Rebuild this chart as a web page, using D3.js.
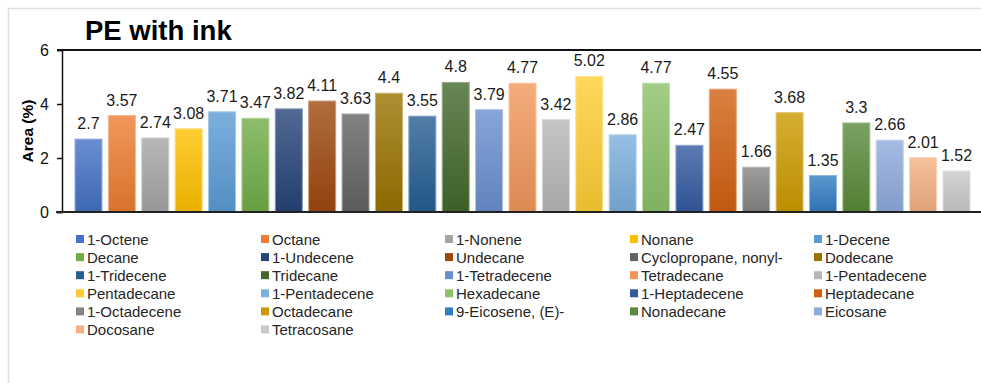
<!DOCTYPE html>
<html>
<head>
<meta charset="utf-8">
<script src="https://cdn.jsdelivr.net/npm/d3@7/dist/d3.min.js"></script>
<style>
  html, body { margin: 0; padding: 0; background: #fff; overflow: hidden; }
  svg { display: block; font-family: "Liberation Sans", Arial, sans-serif; }
</style>
</head>
<body>
<svg id="chart" width="981" height="383"></svg>
<script>
// Compounds detected (legend order = bar order)
const compounds = [
  "1-Octene", "Octane", "1-Nonene", "Nonane", "1-Decene",
  "Decane", "1-Undecene", "Undecane", "Cyclopropane, nonyl-", "Dodecane",
  "1-Tridecene", "Tridecane", "1-Tetradecene", "Tetradecane", "1-Pentadecene",
  "Pentadecane", "1-Pentadecene", "Hexadecane", "1-Heptadecene", "Heptadecane",
  "1-Octadecene", "Octadecane", "9-Eicosene, (E)-", "Nonadecane", "Eicosane",
  "Docosane", "Tetracosane"
];
// Peak area (%)
const areas = [
  2.7, 3.57, 2.74, 3.08, 3.71,
  3.47, 3.82, 4.11, 3.63, 4.4,
  3.55, 4.8, 3.79, 4.77, 3.42,
  5.02, 2.86, 4.77, 2.47, 4.55,
  1.66, 3.68, 1.35, 3.3, 2.66,
  2.01, 1.52
];
const seriesColors = [
  "#4472C4", "#ED7D31", "#A5A5A5", "#FFC000", "#5B9BD5",
  "#70AD47", "#264478", "#9E480E", "#636363", "#997300",
  "#255E91", "#43682B", "#698ED0", "#F1975A", "#B7B7B7",
  "#FFCD33", "#7CAFDD", "#8CC168", "#335AA1", "#D26012",
  "#848484", "#CC9A00", "#327DC2", "#5A8A39", "#8FAADC",
  "#F4B183", "#C9C9C9"
];
const yTicks = [0, 2, 4, 6];
const chartTitle = "PE with ink";
const yTitle = "Area (%)";

const svg = d3.select("#chart");
const data = compounds.map((name, i) => ({ i, name, value: areas[i], color: seriesColors[i] }));

// outer frame (runs past the right and bottom edges)
svg.append("rect")
  .attr("x", 8.5).attr("y", 8.5)
  .attr("width", 1000).attr("height", 400)
  .attr("fill", "#fff").attr("stroke", "#dde1e6").attr("stroke-width", 1.5);

const x = d3.scaleBand()
  .domain(d3.range(data.length))
  .range([71.8, 973.2])
  .paddingInner(0.19)
  .paddingOuter(0.095);

const y = d3.scaleLinear().domain([0, 6]).range([212, 50]);

// vertical gradients for each bar
const defs = svg.append("defs");
data.forEach(d => {
  const g = defs.append("linearGradient")
    .attr("id", "grad" + d.i)
    .attr("x1", 0).attr("y1", 0).attr("x2", 0).attr("y2", 1);
  g.append("stop").attr("offset", "0%")
    .attr("stop-color", d3.interpolateRgb(d.color, "#ffffff")(0.2));
  g.append("stop").attr("offset", "100%")
    .attr("stop-color", d3.color(d.color).darker(0.25).formatHex());
});

// title
svg.append("text")
  .attr("x", 85).attr("y", 40)
  .attr("font-size", 27.5).attr("font-weight", "bold").attr("fill", "#000")
  .text(chartTitle);

// y axis title
svg.append("text")
  .attr("transform", "translate(33,131) rotate(-90)")
  .attr("text-anchor", "middle")
  .attr("font-size", 15.5).attr("font-weight", "bold").attr("fill", "#000")
  .text(yTitle);

// top line at the axis maximum
svg.append("line")
  .attr("x1", 57).attr("x2", 981)
  .attr("y1", y(6)).attr("y2", y(6))
  .attr("stroke", "#111").attr("stroke-width", 2);

// bars
svg.append("g").selectAll("rect")
  .data(data)
  .join("rect")
  .attr("x", d => x(d.i))
  .attr("width", x.bandwidth())
  .attr("y", d => y(d.value))
  .attr("height", d => y(0) - y(d.value))
  .attr("fill", d => `url(#grad${d.i})`)
  .attr("stroke", d => d3.interpolateRgb(d.color, "#ffffff")(0.45))
  .attr("stroke-width", 1);

// value labels
svg.append("g").selectAll("text")
  .data(data)
  .join("text")
  .attr("x", d => x(d.i) + x.bandwidth() / 2)
  .attr("y", d => y(d.value) - 10)
  .attr("text-anchor", "middle")
  .attr("font-size", 16).attr("fill", "#1a1a1a")
  .text(d => d.value);

// y axis
const yAxis = svg.append("g")
  .attr("transform", "translate(62,0)")
  .call(d3.axisLeft(y).tickValues(yTicks).tickFormat(d3.format("d")).tickSize(5).tickPadding(8));
yAxis.select(".domain").attr("stroke", "#111").attr("stroke-width", 1.5);
yAxis.selectAll(".tick line").attr("stroke", "#111").attr("stroke-width", 1.5);
yAxis.selectAll(".tick text")
  .attr("font-size", 16).attr("fill", "#111")
  .attr("font-family", "'Liberation Sans', Arial, sans-serif");

// x axis baseline
svg.append("line")
  .attr("x1", 56).attr("x2", 981)
  .attr("y1", y(0)).attr("y2", y(0))
  .attr("stroke", "#222").attr("stroke-width", 2);

// legend: 5 columns
const legend = svg.append("g");
const colX = [76, 261, 445, 630, 814];
const rowY0 = 239, rowStep = 18.1;
const items = legend.selectAll("g")
  .data(data)
  .join("g")
  .attr("transform", d => `translate(${colX[d.i % 5]},${rowY0 + Math.floor(d.i / 5) * rowStep})`);
items.append("rect")
  .attr("x", 0).attr("y", -4).attr("width", 8).attr("height", 8)
  .attr("fill", d => d.color);
items.append("text")
  .attr("x", 11).attr("y", 5.5)
  .attr("font-size", 15).attr("fill", "#262626")
  .text(d => d.name);
</script>
</body>
</html>
